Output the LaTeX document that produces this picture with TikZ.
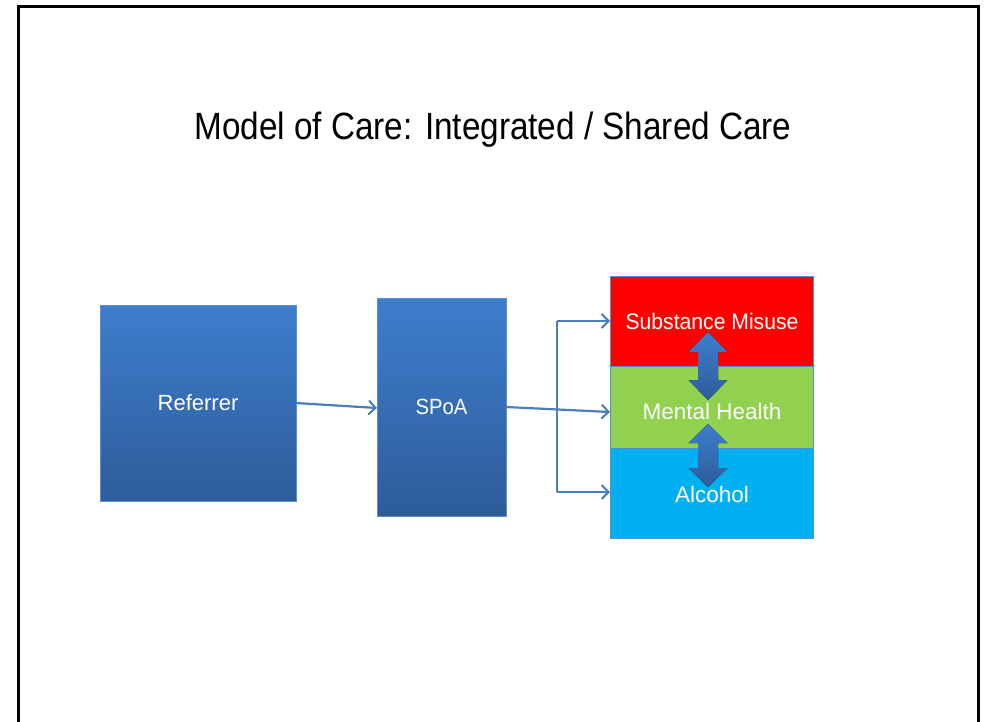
\documentclass[tikz,border=0pt]{standalone}
\usepackage{fontspec}
\setmainfont{Liberation Sans}
\usetikzlibrary{arrows.meta}
\definecolor{boxtop}{HTML}{3D7ECD}
\definecolor{boxbot}{HTML}{2E5C9A}
\definecolor{boxline}{HTML}{5B8ED3}
\definecolor{conn}{HTML}{4A7EBB}
\definecolor{smred}{HTML}{FF0000}
\definecolor{mhgreen}{HTML}{92D050}
\definecolor{alblue}{HTML}{00B0F0}
\tikzset{
  bluebox/.style={draw=boxline, line width=0.8pt, top color=boxtop, bottom color=boxbot,
    text=white, font=\fontsize{22}{24}\selectfont, inner sep=0pt},
  band/.style={draw=boxline, line width=0.8pt, text=white,
    font=\fontsize{22}{24}\selectfont, minimum width=203pt, inner sep=0pt},
  labeltext/.style={text=white, font=\fontsize{22.5}{24}\selectfont},
  conn/.style={draw=conn, line width=2.2pt, -{Straight Barb[length=7pt,width=14pt,line width=2pt]}},
  dblarrow/.style={draw=none, top color=boxtop, bottom color=boxbot}
}
\begin{document}
\begin{tikzpicture}[x=1pt,y=-1pt]
\useasboundingbox (0,0) rectangle (984,721);
\fill[white] (0,0) rectangle (984,721);
% frame
\draw[line width=3pt] (18,722) -- (18,6) -- (978,6) -- (978,722);
% title
\node (title) at (493,130) {\fontsize{38}{42}\selectfont\scalebox{0.876}[1]{Model of Care: Integrated / Shared Care}};
% boxes
\node[bluebox, minimum width=196pt, minimum height=196pt] (ref) at (198,403) {Referrer};
\node[bluebox, minimum width=129pt, minimum height=218pt] (spoa) at (441.5,407) {\scalebox{0.92}[1]{SPoA}};
\node[band, fill=smred, minimum height=90pt] (sm) at (711.5,321) {};
\node[band, fill=mhgreen, minimum height=82pt] (mh) at (711.5,407) {};
\node[band, fill=alblue, minimum height=90pt] (al) at (711.5,493) {};
% block double arrows
\fill[dblarrow] (708,332) -- (727.5,352) -- (718,352) -- (718,380) -- (727.5,380) -- (708,400)
  -- (688.5,380) -- (698,380) -- (698,352) -- (688.5,352) -- cycle;
\fill[dblarrow] (708,424) -- (727.5,443) -- (718,443) -- (718,468) -- (727.5,468) -- (708,487)
  -- (688.5,468) -- (698,468) -- (698,443) -- (688.5,443) -- cycle;
% labels
\node[labeltext] (smt) at (712,321) {\scalebox{0.94}[1]{Substance Misuse}};
\node[labeltext] (mht) at (712,411) {Mental Health};
\node[labeltext] (alt) at (712,494) {Alcohol};
% connectors
\coordinate (refout) at (296,403);
\coordinate (spin) at (377,408);
\coordinate (spout) at (506,407);
\coordinate (ftop) at (557,321);
\coordinate (fbot) at (557,492);
\coordinate (smin) at (610,321);
\coordinate (mhin) at (610,412);
\coordinate (alin) at (610,492);
\draw[conn] (refout) -- (spin);
\draw[conn] (spout) -- (mhin);
\draw[conn] (ftop) -- (smin);
\draw[conn] (fbot) -- (alin);
\draw[draw=conn, line width=2.2pt] (ftop) -- (fbot);
\end{tikzpicture}
\end{document}
